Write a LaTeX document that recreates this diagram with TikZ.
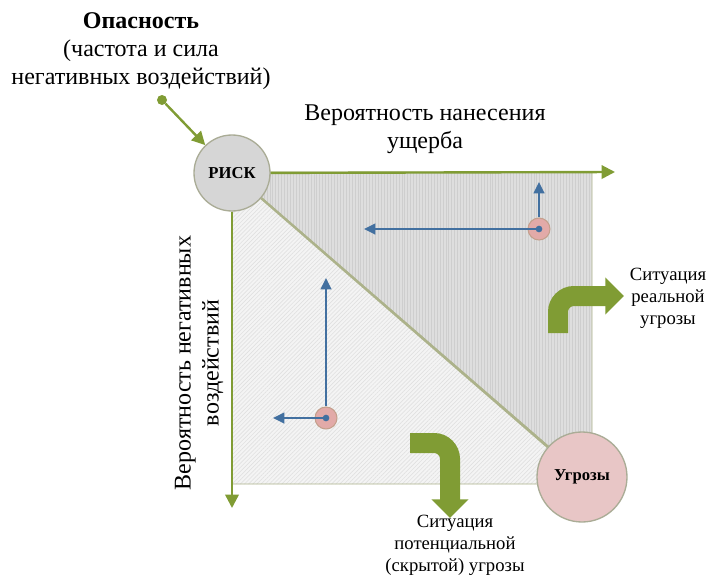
\documentclass[tikz,border=0pt]{standalone}
\usepackage{fontspec}
\setmainfont{Liberation Serif}
\usetikzlibrary{arrows.meta,patterns.meta}
\definecolor{riskgreen}{RGB}{128,156,52}
\definecolor{riskblue}{RGB}{66,112,160}
\definecolor{rimgray}{RGB}{170,172,150}
\definecolor{edgegreen}{RGB}{172,178,138}
\definecolor{upfill}{RGB}{222,222,222}
\definecolor{upline}{RGB}{206,206,206}
\definecolor{lowfill}{RGB}{244,244,244}
\definecolor{lowline}{RGB}{225,225,225}
\definecolor{riskfill}{RGB}{214,214,214}
\definecolor{threatfill}{RGB}{232,198,198}
\definecolor{ptfill}{RGB}{226,170,168}
\definecolor{ptrim}{RGB}{196,160,140}
\tikzset{
  axis/.style={draw=riskgreen, line width=1.8pt, -{Triangle[length=10pt,width=10pt]}},
  vector/.style={draw=riskblue, line width=1.7pt, -{Triangle[length=8.5pt,width=8pt]}},
  turn/.style={draw=riskgreen, line width=15pt, rounded corners=12pt, -{Triangle[length=14pt,width=27pt]}},
  zone/.style={draw=edgegreen, line width=0.7pt},
  bigcircle/.style={circle, draw=rimgray, line width=1pt, inner sep=0, font=\fontsize{12.5}{14}\selectfont\bfseries},
  ptcircle/.style={circle, draw=ptrim, fill=ptfill, line width=0.8pt, minimum size=16.5pt, inner sep=0},
  ptdot/.style={circle, fill=riskblue, minimum size=5pt, inner sep=0},
  bigtext/.style={align=center, inner sep=0, font=\fontsize{18}{21}\selectfont},
  smalltext/.style={align=center, inner sep=0, font=\fontsize{14}{16.5}\selectfont}
}
\begin{document}
\begin{tikzpicture}[x=0.75pt, y=-0.75pt]
  \useasboundingbox (0,0) rectangle (718,575);
  \path[zone, preaction={fill=upfill}, pattern={Lines[angle=90,distance=2.2pt,line width=0.5pt]}, pattern color=upline]
    (232,172) -- (592,172) -- (592,484) -- cycle;
  \path[zone, preaction={fill=lowfill}, pattern={Lines[angle=45,distance=2.2pt,line width=0.5pt]}, pattern color=lowline]
    (232,172) -- (232,484) -- (592,484) -- cycle;
  \node[bigcircle, fill=riskfill, minimum size=57pt] (risk) at (232,173) {РИСК};
  \node[bigcircle, fill=threatfill, minimum size=67.5pt] (threat) at (582,477) {Угрозы};
  \coordinate (xend) at (615,172);
  \coordinate (yend) at (232,508);
  \draw[edgegreen, line width=1.6pt] (risk) -- (threat);
  \draw[axis] (risk) -- (xend);
  \draw[axis] (risk) -- (yend);
  \node[circle, fill=riskgreen, minimum size=7.5pt, inner sep=0] (src) at (162,100) {};
  \draw[axis] (src) -- (risk);
  \node[bigtext] (danger) at (141,51) {\textbf{Опасность}\\(частота и сила\\негативных воздействий)};
  \node[bigtext] (xlabel) at (425,129) {Вероятность нанесения\\ущерба};
  \node[bigtext, rotate=90] (ylabel) at (199,363) {Вероятность негативных\\воздействий};
  \node[smalltext] (real) at (668,298) {Ситуация\\реальной\\угрозы};
  \node[smalltext] (hidden) at (455,545) {Ситуация\\потенциальной\\(скрытой) угрозы};
  \node[ptcircle] (pa) at (539,229) {};
  \node[ptcircle] (pb) at (326,418) {};
  \node[ptdot] at (pa) {};
  \node[ptdot] at (pb) {};
  \coordinate (pa-left) at (364,229);
  \coordinate (pa-up) at (539,182);
  \coordinate (pb-left) at (273,418);
  \coordinate (pb-up) at (326,278);
  \draw[vector] (pa.center) -- (pa-left);
  \draw[vector] (pa) -- (pa-up);
  \draw[vector] (pb.center) -- (pb-left);
  \draw[vector] (pb) -- (pb-up);
  \draw[turn] (558,333) |- (624,296);
  \draw[turn] (410,443) -| (450,518);
\end{tikzpicture}
\end{document}
